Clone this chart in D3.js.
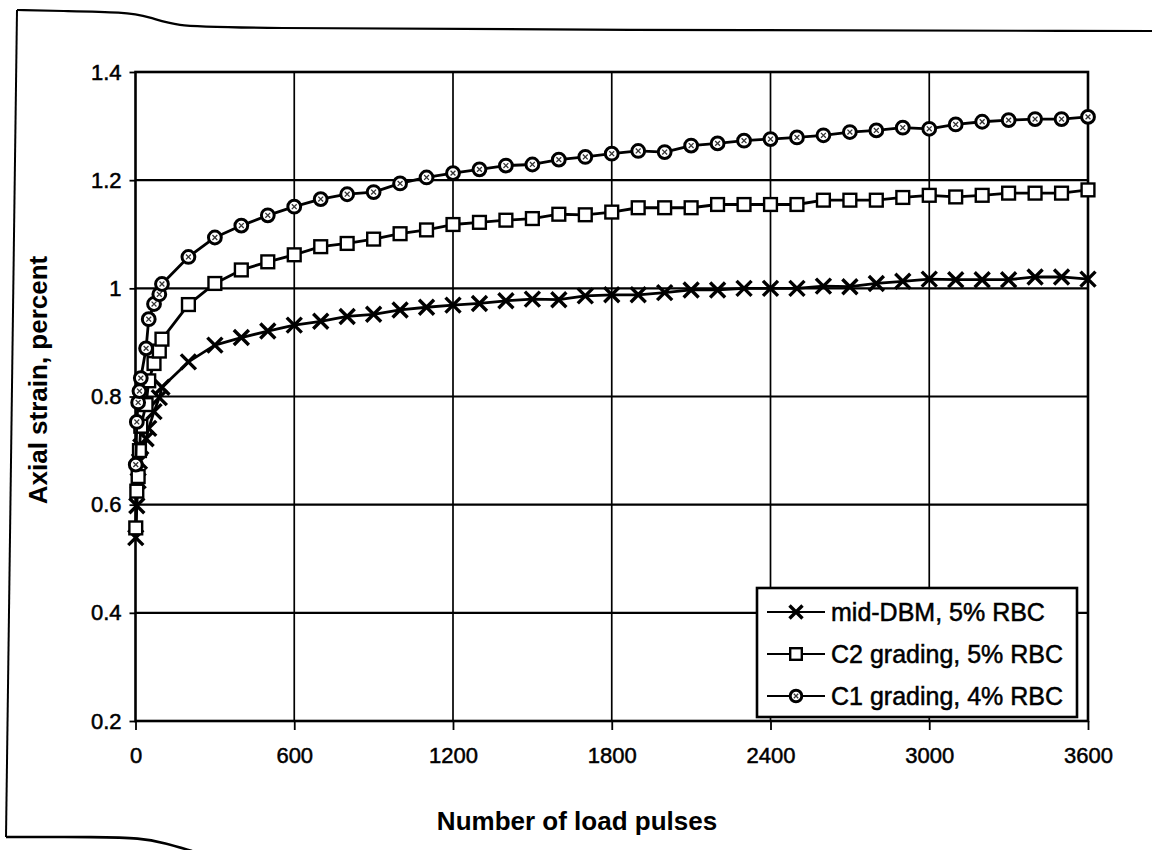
<!DOCTYPE html>
<html>
<head>
<meta charset="utf-8">
<script src="https://cdn.jsdelivr.net/npm/d3@7"></script>
<style>
  html, body { margin: 0; padding: 0; background: #fff; }
  svg { display: block; }
  text { font-family: "Liberation Sans", Arial, sans-serif; fill: #000; }
</style>
</head>
<body>
<div id="chart"></div>
<script>
// Number of load pulses at which axial strain was recorded
const pulses = [1, 5, 10, 15, 20, 40, 50, 70, 90, 100,
  200, 300, 400, 500, 600, 700, 800, 900, 1000, 1100, 1200,
  1300, 1400, 1500, 1600, 1700, 1800, 1900, 2000, 2100, 2200, 2300, 2400,
  2500, 2600, 2700, 2800, 2900, 3000, 3100, 3200, 3300, 3400, 3500, 3600];

// Axial strain (percent) for each mix
const midDBM = [0.539, 0.598, 0.644, 0.680, 0.707, 0.722, 0.741, 0.772, 0.798, 0.817,
  0.864, 0.895, 0.909, 0.921, 0.932, 0.939, 0.948, 0.952, 0.960, 0.965, 0.969,
  0.972, 0.977, 0.980, 0.979, 0.986, 0.988, 0.988, 0.992, 0.997, 0.997, 1.000, 1.000,
  1.000, 1.004, 1.003, 1.009, 1.013, 1.017, 1.016, 1.016, 1.016, 1.021, 1.021, 1.017];

const c2Grading = [0.557, 0.625, 0.652, 0.700, 0.745, 0.785, 0.829, 0.861, 0.884, 0.906,
  0.970, 1.009, 1.034, 1.049, 1.062, 1.077, 1.083, 1.091, 1.101, 1.108, 1.118,
  1.122, 1.126, 1.129, 1.137, 1.136, 1.141, 1.149, 1.149, 1.149, 1.155, 1.155, 1.155,
  1.155, 1.163, 1.163, 1.163, 1.168, 1.172, 1.169, 1.172, 1.176, 1.176, 1.176, 1.182];

const c1Grading = [0.674, 0.753, 0.789, 0.810, 0.834, 0.889, 0.943, 0.971, 0.989, 1.008,
  1.058, 1.094, 1.116, 1.135, 1.151, 1.165, 1.174, 1.178, 1.194, 1.205, 1.213,
  1.220, 1.227, 1.229, 1.238, 1.243, 1.249, 1.254, 1.252, 1.264, 1.268, 1.273, 1.276,
  1.279, 1.283, 1.289, 1.292, 1.297, 1.295, 1.303, 1.308, 1.311, 1.313, 1.313, 1.317];

const seriesNames = ["mid-DBM, 5% RBC", "C2 grading, 5% RBC", "C1 grading, 4% RBC"];
const markerKinds = ["cross", "square", "circle"];

const xTicks = [0, 600, 1200, 1800, 2400, 3000, 3600];
const yTicks = [0.2, 0.4, 0.6, 0.8, 1, 1.2, 1.4];
const yTickLabels = ["0.2", "0.4", "0.6", "0.8", "1", "1.2", "1.4"];

const xTitle = "Number of load pulses";
const yTitle = "Axial strain, percent";

// ---- layout ----
const W = 1152, H = 850;
const svg = d3.select("#chart").append("svg")
  .attr("width", W).attr("height", H)
  .style("background", "#fff");

const x = d3.scaleLinear().domain([0, 3600]).range([135.5, 1088]);
const y = d3.scaleLinear().domain([0.2, 1.4]).range([721, 72]);

// outer frame of the figure (left, top and bottom edges)
const frameLine = d3.line().curve(d3.curveBasis);
svg.append("path")
  .attr("d", frameLine([[1152, 31], [600, 30], [230, 28], [175, 26], [150, 17], [125, 12], [60, 11], [17, 10], [17, 10]]))
  .attr("fill", "none").attr("stroke", "#000").attr("stroke-width", 2.2);
svg.append("path")
  .attr("d", d3.line()([[17, 10], [6, 837]]))
  .attr("fill", "none").attr("stroke", "#000").attr("stroke-width", 2);
svg.append("path")
  .attr("d", frameLine([[6, 837], [6, 837], [100, 837], [140, 838], [165, 843], [192, 851]]))
  .attr("fill", "none").attr("stroke", "#000").attr("stroke-width", 2.6);

// ---- gridlines ----
const grid = svg.append("g");
grid.selectAll("line.h")
  .data(yTicks.filter(v => v > 0.2 && v < 1.4))
  .join("line")
  .attr("x1", x(0)).attr("x2", x(3600))
  .attr("y1", d => y(d)).attr("y2", d => y(d))
  .attr("stroke", "#000").attr("stroke-width", 2.2);
grid.selectAll("line.v")
  .data(xTicks.filter(v => v > 0 && v < 3600))
  .join("line")
  .attr("y1", y(1.4)).attr("y2", y(0.2))
  .attr("x1", d => x(d)).attr("x2", d => x(d))
  .attr("stroke", "#000").attr("stroke-width", 1.7);

// plot area border
svg.append("rect")
  .attr("x", x(0)).attr("y", y(1.4))
  .attr("width", x(3600) - x(0)).attr("height", y(0.2) - y(1.4))
  .attr("fill", "none").attr("stroke", "#000").attr("stroke-width", 2.6);

// ---- axes ----
const xAxis = svg.append("g")
  .attr("transform", `translate(0,${y(0.2)})`)
  .call(d3.axisBottom(x).tickValues(xTicks).tickSize(9).tickPadding(17).tickFormat(d3.format("d")));
xAxis.select(".domain").remove();
xAxis.selectAll(".tick line").attr("stroke", "#000").attr("stroke-width", 1.8);
xAxis.selectAll(".tick text")
  .attr("font-family", "'Liberation Sans', Arial, sans-serif")
  .attr("font-size", 22).attr("fill", "#000")
  .attr("stroke", "#000").attr("stroke-width", 0.5);

const yAxis = svg.append("g")
  .attr("transform", `translate(${x(0)},0)`)
  .call(d3.axisLeft(y).tickValues(yTicks).tickSize(6).tickPadding(8)
    .tickFormat((d, i) => yTickLabels[i]));
yAxis.select(".domain").remove();
yAxis.selectAll(".tick line").attr("stroke", "#000").attr("stroke-width", 1.8);
yAxis.selectAll(".tick text")
  .attr("font-family", "'Liberation Sans', Arial, sans-serif")
  .attr("font-size", 22).attr("fill", "#000")
  .attr("stroke", "#000").attr("stroke-width", 0.5);

// axis titles
svg.append("text")
  .attr("x", 577).attr("y", 830)
  .attr("text-anchor", "middle")
  .attr("font-size", 26).attr("font-weight", "bold")
  .text(xTitle);
svg.append("text")
  .attr("transform", "translate(47,380) rotate(-90)")
  .attr("text-anchor", "middle")
  .attr("font-size", 26).attr("font-weight", "bold")
  .text(yTitle);

// ---- marker drawing ----
function drawMarker(g, kind, s) {
  if (kind === "cross") {
    g.append("path")
      .attr("d", `M${-s},${-s}L${s},${s}M${-s},${s}L${s},${-s}`)
      .attr("stroke", "#000").attr("stroke-width", 3.4).attr("fill", "none");
  } else if (kind === "square") {
    g.append("rect")
      .attr("x", -s).attr("y", -s).attr("width", 2 * s).attr("height", 2 * s)
      .attr("fill", "#fff").attr("stroke", "#000").attr("stroke-width", 2.4);
  } else {
    g.append("circle").attr("r", s)
      .attr("fill", "#fff").attr("stroke", "#000").attr("stroke-width", 3);
    const k = s * 0.38;
    g.append("path")
      .attr("d", `M${-k},${-k}L${k},${k}M${-k},${k}L${k},${-k}`)
      .attr("stroke", "#333").attr("stroke-width", 1.3).attr("fill", "none");
  }
}
const markerSize = { cross: 7.5, square: 6.4, circle: 6.4 };

// ---- series ----
const seriesValues = [midDBM, c2Grading, c1Grading];
const line = d3.line().x(d => x(d[0])).y(d => y(d[1]));

seriesValues.forEach((vals, si) => {
  const pts = pulses.map((p, i) => [p, vals[i]]);
  const g = svg.append("g");
  g.append("path")
    .attr("d", line(pts))
    .attr("fill", "none").attr("stroke", "#000").attr("stroke-width", 2.8)
    .attr("stroke-linejoin", "round");
  g.selectAll("g.m").data(pts).join("g")
    .attr("transform", d => `translate(${x(d[0])},${y(d[1])})`)
    .each(function () { drawMarker(d3.select(this), markerKinds[si], markerSize[markerKinds[si]]); });
});

// ---- legend ----
const legend = svg.append("g").attr("transform", "translate(757,588)");
legend.append("rect")
  .attr("width", 320).attr("height", 129)
  .attr("fill", "#fff").attr("stroke", "#000").attr("stroke-width", 2.6);
const rowY = [24, 66, 108];
seriesNames.forEach((name, i) => {
  const row = legend.append("g").attr("transform", `translate(0,${rowY[i]})`);
  row.append("line")
    .attr("x1", 10).attr("x2", 68).attr("y1", 0).attr("y2", 0)
    .attr("stroke", "#000").attr("stroke-width", 2.2);
  const m = row.append("g").attr("transform", "translate(39,0)");
  drawMarker(m, markerKinds[i], markerKinds[i] === "cross" ? 6.5 : 5.8);
  row.append("text")
    .attr("x", 74).attr("y", 0).attr("dy", "0.35em")
    .attr("font-size", 25)
    .attr("stroke", "#000").attr("stroke-width", 0.5)
    .text(name);
});
</script>
</body>
</html>
